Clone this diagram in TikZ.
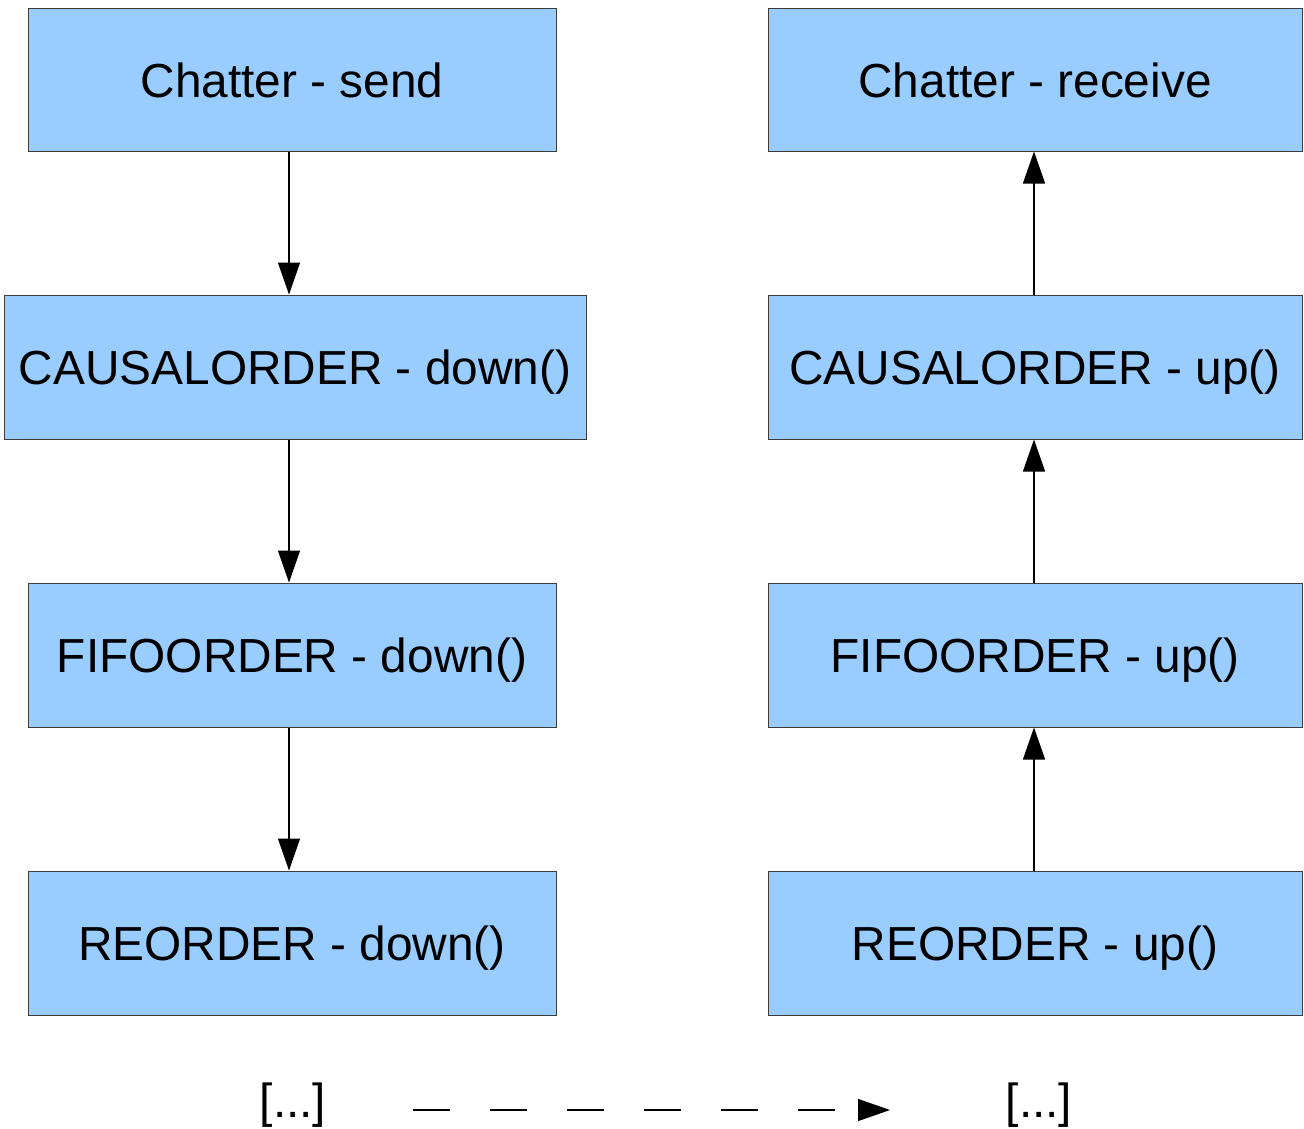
\documentclass[tikz,border=0pt]{standalone}
\usepackage{fontspec}
\setmainfont{Liberation Sans}
\usetikzlibrary{arrows.meta}
\definecolor{boxfill}{HTML}{99CCFF}
\definecolor{boxline}{HTML}{3C3C3C}
\begin{document}
\begin{tikzpicture}[x=1pt,y=-1pt,
  box/.style={draw=boxline,line width=1pt,fill=boxfill,inner sep=0pt,
    text height=35pt,text depth=0pt,
    font=\fontsize{47.8}{57}\selectfont},
  conn/.style={line width=1.2pt,-{Triangle[width=22pt,length=32pt]}},
  lbl/.style={font=\fontsize{47.8}{57}\selectfont,inner sep=0pt}]
\useasboundingbox (0,0) rectangle (1304,1128);
% left column
\node[box,minimum width=528pt,minimum height=143pt] (ls) at (292,79.5) {Chatter - send};
\node[box,minimum width=582pt,minimum height=144pt] (lc) at (295,367) {CAUSALORDER - down()};
\node[box,minimum width=528pt,minimum height=144pt] (lf) at (292,655) {FIFOORDER - down()};
\node[box,minimum width=528pt,minimum height=144pt] (lr) at (292,943) {REORDER - down()};
% right column
\node[box,minimum width=534pt,minimum height=143pt] (rs) at (1035,79.5) {Chatter - receive};
\node[box,minimum width=534pt,minimum height=144pt] (rc) at (1035,367) {CAUSALORDER - up()};
\node[box,minimum width=534pt,minimum height=144pt] (rf) at (1035,655) {FIFOORDER - up()};
\node[box,minimum width=534pt,minimum height=144pt] (rr) at (1035,943) {REORDER - up()};
% connectors
\draw[conn] (ls.south -| 289,0) -- (lc.north -| 289,0);
\draw[conn] (lc.south -| 289,0) -- (lf.north -| 289,0);
\draw[conn] (lf.south -| 289,0) -- (lr.north -| 289,0);
\draw[conn] (rc.north -| 1034,0) -- (rs.south -| 1034,0);
\draw[conn] (rf.north -| 1034,0) -- (rc.south -| 1034,0);
\draw[conn] (rr.north -| 1034,0) -- (rf.south -| 1034,0);
% bottom
\node[lbl] (ld) at (293,1105) {[...]};
\node[lbl] (rd) at (1039,1105) {[...]};
\coordinate (ds) at (413,1110);
\coordinate (de) at (890,1110);
\draw[conn,dash pattern=on 37pt off 40pt] (ds) -- (de);
\end{tikzpicture}
\end{document}
